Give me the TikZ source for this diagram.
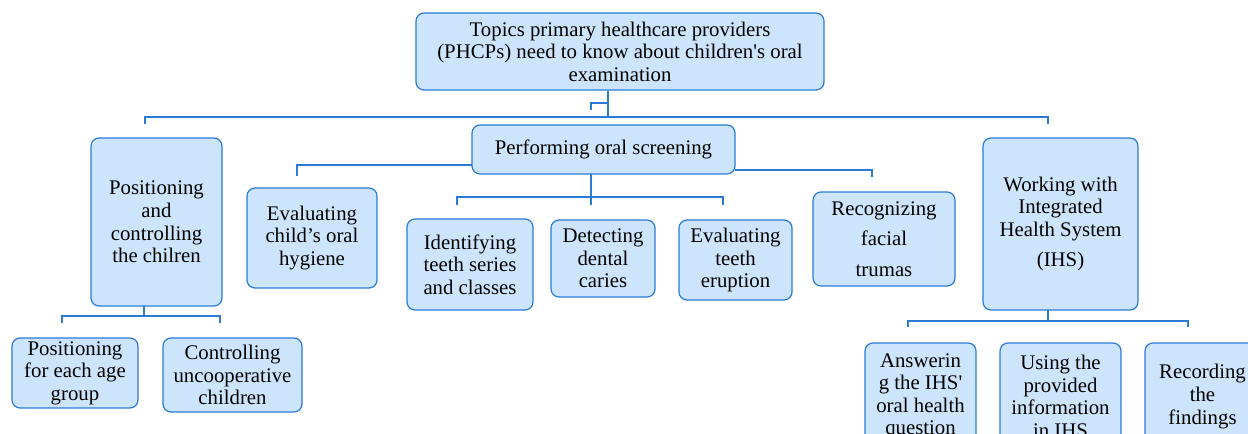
\documentclass[tikz,border=0pt]{standalone}
\usepackage{fontspec}
\IfFontExistsTF{LiberationSerif-Regular.ttf}
  {\newfontfamily\tnr{LiberationSerif-Regular.ttf}\def\fs{15.6}}
  {\IfFontExistsTF{TeX Gyre Termes}{\newfontfamily\tnr{TeX Gyre Termes}\def\fs{15.6}}{\def\tnr{\rmfamily}\def\fs{14.2}}}
\definecolor{bfill}{HTML}{CDE5FC}
\definecolor{bline}{HTML}{2B7BD6}
\begin{document}
\begin{tikzpicture}[x=0.75pt,y=-0.75pt,
  box/.style={draw=bline, fill=bfill, line width=0.9pt, rounded corners=6pt,
    align=center, inner sep=0pt, font=\tnr\fontsize{\fs}{16.9}\selectfont},
  conn/.style={draw=bline, line width=0.9pt}]
\useasboundingbox (0,0) rectangle (1248,434);
% connectors (drawn first, boxes on top)
\coordinate (tj) at (608,117);
\coordinate (tl) at (145,117);
\coordinate (tr) at (1048,117);
\coordinate (tld) at (145,124);
\coordinate (trd) at (1048,124);
\coordinate (hk) at (591,110);
\coordinate (pl) at (297,165);
\coordinate (pld) at (297,176);
\coordinate (pr) at (872,170);
\coordinate (prd) at (872,177);
\coordinate (pj) at (591,197);
\coordinate (pjl) at (457,197);
\coordinate (pjr) at (723,197);
\coordinate (cj) at (144,316);
\coordinate (cjl) at (62,316);
\coordinate (cjr) at (220,316);
\coordinate (ij) at (1048,321);
\coordinate (ijl) at (908,321);
\coordinate (ijr) at (1188,321);

\node[box, minimum width=408*0.75pt, minimum height=77*0.75pt] (top) at (620,51.5)
  {Topics primary healthcare providers\\(PHCPs) need to know about children\textquotesingle s oral\\examination};
\path[conn] (top.south -| tj) -- (tj);
\path[conn] (608,103) -| (hk);
\path[conn] (tld) -- (tl) -- (tr) -- (trd);

\path[conn] (pld) -- (pl) -- (591,165) -- (591,205);
\path[conn] (735,170) -- (pr) -- (prd);
\path[conn] (457,205) -- (pjl) -- (pjr) -- (723,205);
\path[conn] (144,306) -- (cj);
\path[conn] (62,323) -- (cjl) -- (cjr) -- (220,323);
\path[conn] (1048,310) -- (ij);
\path[conn] (908,327) -- (ijl) -- (ijr) -- (1188,327);

\node[box, minimum width=263*0.75pt, minimum height=49*0.75pt] (perf) at (603.5,149.5)
  {Performing oral screening};
\node[box, minimum width=131*0.75pt, minimum height=168*0.75pt] (posctrl) at (156.5,222)
  {Positioning\\and\\controlling\\the chilren};
\node[box, minimum width=130*0.75pt, minimum height=100*0.75pt] (hyg) at (312,238)
  {Evaluating\\child’s oral\\hygiene};
\node[box, minimum width=126*0.75pt, minimum height=91*0.75pt] (ident) at (470,264.5)
  {Identifying\\teeth series\\and classes};
\node[box, minimum width=104*0.75pt, minimum height=77*0.75pt] (detect) at (603,258.5)
  {Detecting\\dental\\caries};
\node[box, minimum width=113*0.75pt, minimum height=80*0.75pt] (evalt) at (735.5,260)
  {Evaluating\\teeth\\eruption};
\node[box, minimum width=142*0.75pt, minimum height=94*0.75pt] (recog) at (884,239)
  {Recognizing\\[6pt]facial\\[6pt]trumas};
\node[box, minimum width=155*0.75pt, minimum height=172*0.75pt] (ihs) at (1060.5,224)
  {Working with\\Integrated\\Health System\\[6pt](IHS)};
\node[box, minimum width=126*0.75pt, minimum height=70*0.75pt] (posage) at (75,373)
  {Positioning\\for each age\\group};
\node[box, minimum width=139*0.75pt, minimum height=74*0.75pt] (ctrlun) at (232.5,375)
  {Controlling\\uncooperative\\children};
\node[box, minimum width=111*0.75pt, minimum height=107*0.75pt] (answer) at (920.5,396.5)
  {Answerin\\g the IHS\textquotesingle\\oral health\\question};
\node[box, minimum width=121*0.75pt, minimum height=107*0.75pt] (using) at (1060.5,396.5)
  {Using the\\provided\\information\\in IHS};
\node[box, minimum width=115*0.75pt, minimum height=107*0.75pt] (record) at (1202.5,396.5)
  {Recording\\the\\findings};
\end{tikzpicture}
\end{document}
